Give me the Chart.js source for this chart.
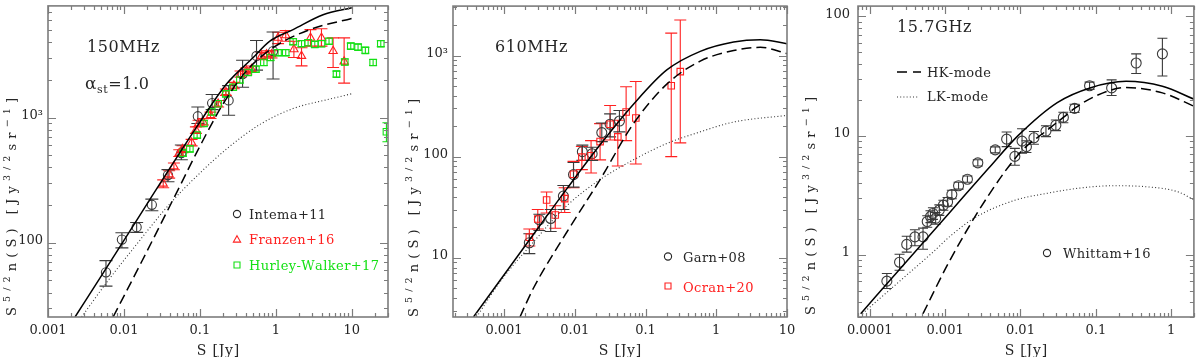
<!DOCTYPE html>
<html>
<head>
<meta charset="utf-8">
<title>Source counts</title>
<script src="https://cdn.jsdelivr.net/npm/chart.js@4.4.1/dist/chart.umd.min.js"></script>
<style>
  html, body { margin: 0; padding: 0; background: #fff; }
  #wrap { position: relative; width: 1200px; height: 357px; overflow: hidden; }
  .panel { position: absolute; top: 0; width: 400px; height: 357px; }
</style>
</head>
<body>
<div id="wrap">
  <div class="panel" style="left:0px"><canvas id="c150" width="400" height="357"></canvas></div>
  <div class="panel" style="left:400px"><canvas id="c610" width="400" height="357"></canvas></div>
  <div class="panel" style="left:800px"><canvas id="c157" width="400" height="357"></canvas></div>
</div>
<script>
// ---------- 150 MHz ----------
const x150Ticks = [0.001, 0.01, 0.1, 1, 10];
const x150Labels = ['0.001', '0.01', '0.1', '1', '10'];
const y150Ticks = [100, 1000];
const y150Labels = ['100', '10³'];

const intemaS  = [0.0058, 0.0094, 0.0147, 0.0233, 0.038, 0.057, 0.094, 0.145, 0.239, 0.365, 0.557, 0.92];
const intemaN  = [58, 106, 133, 201, 347, 520, 1024, 1306, 1370, 2224, 3105, 3397];
const intemaLo = [45, 91, 121, 180, 307, 460, 897, 1157, 1043, 1745, 2393, 2032];
const intemaHi = [72, 120, 145, 223, 384, 604, 1215, 1527, 1800, 2873, 4130, 4830];

const franzenS  = [0.0329, 0.0394, 0.0455, 0.0535, 0.059, 0.0778, 0.0886, 0.096, 0.11, 0.138, 0.174, 0.22, 0.28, 0.343,
                   0.41, 0.479, 0.648, 0.755, 0.878, 1.07, 1.35, 1.73, 2.18, 2.86, 3.99, 5.68, 7.93];
const franzenN  = [296, 351, 408, 520, 559, 631, 794, 897, 925, 1043, 1290, 1596, 1800, 2224,
                   2361, 2436, 3105, 3200, 3200, 4335, 4540, 3507, 3105, 4335, 4335, 3397, 2800];
const franzenLo = [275, 328, 383, 488, 525, 594, 748, 845, 872, 983, 1216, 1505, 1697, 2097,
                   2226, 2297, 2900, 2990, 2990, 3900, 4074, 3015, 2588, 3724, 3724, 2512, 1884];
const franzenHi = [318, 376, 434, 553, 595, 670, 843, 952, 981, 1106, 1368, 1692, 1909, 2358,
                   2503, 2583, 3320, 3420, 3420, 4800, 4955, 4074, 3614, 5037, 5130, 4335, 4335];

const hurleyS  = [0.06, 0.0738, 0.092, 0.113, 0.143, 0.174, 0.22, 0.274, 0.336, 0.432, 0.546, 0.695, 0.851, 1.07, 1.35,
                  1.69, 2.18, 2.66, 3.26, 3.99, 5.02, 6.29, 8.09, 9.7, 12.1, 15.1, 19.1, 24.1, 28.6];
const hurleyN  = [520, 562, 724, 897, 1109, 1290, 1547, 1745, 1995, 2290, 2436, 2754, 3015, 3297, 3297,
                  4036, 3890, 3962, 3840, 3890, 4074, 2224, 2780, 3724, 3656, 3444, 2754, 3890, 771];
const hurleyLo = [492, 532, 685, 850, 1050, 1222, 1466, 1652, 1890, 2170, 2308, 2609, 2856, 3124, 3124,
                  3824, 3686, 3754, 3638, 3686, 3860, 2107, 2634, 3528, 3464, 3263, 2609, 3686, 640];
const hurleyHi = [549, 593, 764, 947, 1171, 1362, 1633, 1842, 2106, 2417, 2571, 2907, 3183, 3480, 3480,
                  4260, 4106, 4182, 4053, 4106, 4300, 2348, 2934, 3931, 3859, 3635, 2907, 4106, 910];

const m150SolidS  = [0.00227, 0.0058, 0.022, 0.0446, 0.1, 0.224, 0.5, 0.834, 1.69, 4.19, 10];
const m150SolidN  = [25.5, 62, 222, 434, 920, 1854, 3000, 4074, 5040, 6620, 7550];
const m150DashS   = [0.0072, 0.0171, 0.0546, 0.1, 0.203, 0.411, 0.92, 2.8, 10];
const m150DashN   = [25.5, 70.5, 284, 590, 1290, 2361, 3614, 5040, 6200];
const m150DotS    = [0.00277, 0.0059, 0.0133, 0.0403, 0.1, 0.224, 0.615, 1.69, 5, 10];
const m150DotN    = [25.5, 48, 90, 205, 360, 560, 880, 1180, 1400, 1550];

// ---------- 610 MHz ----------
const x610Ticks = [0.001, 0.01, 0.1, 1, 10];
const x610Labels = ['0.001', '0.01', '0.1', '1', '10'];
const y610Ticks = [10, 100, 1000];
const y610Labels = ['10', '100', '10³'];

const garnS  = [0.00228, 0.00316, 0.00457, 0.0069, 0.0096, 0.0128, 0.0176, 0.0241, 0.0316, 0.0428];
const garnN  = [14.1, 23.8, 24.5, 40.8, 66.5, 112, 107, 173, 209, 225];
const garnLo = [11, 18.6, 18.2, 30, 50, 92, 92, 141, 157, 176];
const garnHi = [17.3, 27, 30, 51.9, 87.7, 130, 124, 215, 265, 286];

const ocranS  = [0.00228, 0.003, 0.004, 0.0053, 0.0072, 0.0096, 0.0126, 0.017, 0.0228, 0.0316, 0.0406, 0.0532, 0.0729, 0.231, 0.31];
const ocranN  = [16, 24.2, 37.3, 26.5, 38.5, 67, 99, 102, 141, 209, 157, 276, 241, 502, 693];
const ocranLo = [13.1, 19.3, 27.7, 19.6, 28.1, 49.3, 74.5, 69, 93, 146, 81, 144, 84.6, 100, 137];
const ocranHi = [19.3, 30, 44.7, 32.7, 49.3, 89.8, 126, 144, 212, 321, 229, 491, 553, 1665, 2245];

const m610SolidS = [0.00037, 0.00088, 0.00228, 0.0077, 0.0228, 0.0676, 0.2, 0.594, 1.76, 4.2, 10];
const m610SolidN = [2.6, 6.0, 15, 48, 131, 330, 720, 1100, 1360, 1432, 1310];
const m610DashS  = [0.00168, 0.0026, 0.0077, 0.0228, 0.0676, 0.2, 0.594, 1.76, 4.2, 10];
const m610DashN  = [2.6, 5, 17.9, 59.4, 212, 521, 881, 1119, 1206, 1046];
const m610DotS   = [0.00041, 0.00088, 0.0026, 0.0077, 0.0228, 0.0676, 0.2, 0.594, 1.76, 10];
const m610DotN   = [2.6, 5.8, 14.3, 32.7, 59.4, 93, 135, 176, 220, 256];

// ---------- 15.7 GHz ----------
const x157Ticks = [0.0001, 0.001, 0.01, 0.1, 1];
const x157Labels = ['0.0001', '0.001', '0.01', '0.1', '1'];
const y157Ticks = [1, 10, 100];
const y157Labels = ['1', '10', '100'];

const whittamS  = [0.000169, 0.000249, 0.00031, 0.000398, 0.00051, 0.00058, 0.00064, 0.00069, 0.00075, 0.00084, 0.00095,
                   0.00108, 0.00123, 0.00151, 0.00198, 0.00272, 0.00463, 0.00656, 0.00843, 0.0105, 0.012, 0.0151,
                   0.0218, 0.0295, 0.0371, 0.0522, 0.0826, 0.162, 0.343, 0.764];
const whittamN  = [0.60, 0.865, 1.22, 1.41, 1.41, 1.9, 2.09, 2.22, 2.02, 2.37, 2.6,
                   2.77, 3.2, 3.79, 4.3, 5.9, 7.58, 9.33, 6.68, 8.98, 8.07, 9.57,
                   10.9, 12.2, 14.2, 16.9, 26.2, 25.1, 40.6, 48.5];
const whittamLo = [0.52, 0.74, 1.05, 1.19, 1.11, 1.7, 1.86, 1.98, 1.8, 2.14, 2.36,
                   2.55, 2.95, 3.55, 4.05, 5.55, 7.15, 8.07, 5.64, 7.1, 7.2, 8.45,
                   9.8, 11.0, 12.8, 15.6, 24.4, 21.7, 33.2, 31.6];
const whittamHi = [0.695, 1.01, 1.43, 1.62, 1.67, 2.12, 2.34, 2.48, 2.26, 2.62, 2.86,
                   3.02, 3.47, 4.05, 4.58, 6.27, 8.04, 10.7, 7.8, 11.4, 9.05, 10.8,
                   12.1, 13.5, 15.7, 18.3, 28.1, 29.3, 48.5, 65.6];

const m157SolidS = [0.000076, 0.0003, 0.0012, 0.0038, 0.0093, 0.0308, 0.0836, 0.252, 0.764, 2.05];
const m157SolidN = [0.32, 0.86, 2.33, 5.33, 9.98, 18.9, 25.1, 28.5, 25.9, 20.1];
const m157DashS  = [0.00051, 0.00114, 0.00377, 0.0102, 0.0218, 0.0371, 0.0522, 0.1, 0.25, 0.764, 2.05];
const m157DashN  = [0.32, 0.88, 3.15, 7.34, 10.9, 14.2, 16.9, 21.5, 25.3, 22.8, 17.5];
const m157DotS   = [0.00008, 0.00025, 0.00069, 0.0012, 0.0025, 0.0084, 0.0229, 0.0625, 0.17, 0.46, 1.26, 2.05];
const m157DotN   = [0.32, 0.6, 1.05, 1.45, 2.05, 2.86, 3.28, 3.63, 3.79, 3.72, 3.35, 2.86];

// ---------- look ----------
const SERIF = '"DejaVu Serif", "Liberation Serif", serif';
const INK = '#262626';
const AXIS = '#7c7c7c';
const RED = '#ff2020';
const GREEN = '#14e014';

Chart.defaults.font.family = SERIF;
Chart.defaults.color = INK;

const pts = (xs, ys) => xs.map((x, i) => ({ x: x, y: ys[i] }));

function markers(xs, ys, lo, hi, style, color, radius, cap) {
    return {
        data: pts(xs, ys), errLo: lo, errHi: hi, capWidth: cap, barColor: color,
        showLine: false, pointStyle: style, pointRadius: radius, pointHoverRadius: radius,
        pointBorderColor: color, pointBackgroundColor: 'rgba(0,0,0,0)', pointBorderWidth: 1.1,
        clip: 0
    };
}

function curve(xs, ys, kind) {
    const ds = {
        data: pts(xs, ys), showLine: true, pointRadius: 0, pointHoverRadius: 0,
        borderColor: '#000', borderWidth: 1.5, fill: false,
        cubicInterpolationMode: 'monotone', clip: 0
    };
    if (kind === 'dash') ds.borderDash = [10, 5];
    if (kind === 'dot') { ds.borderDash = [1, 2.3]; ds.borderWidth = 1.1; ds.borderColor = '#333'; }
    return ds;
}

// all 1..9 x 10^k values inside the range, for the small inward tick marks
function logSteps(min, max) {
    const out = [];
    for (let e = Math.floor(Math.log10(min)); e <= Math.ceil(Math.log10(max)); e++) {
        for (let m = 1; m <= 9; m++) {
            const v = m * Math.pow(10, e);
            if (v >= min * 0.999 && v <= max * 1.001) out.push({ v: v, major: m === 1 });
        }
    }
    return out;
}

// text made of pieces: [text, size, dy]
function richWidth(ctx, parts, spacing) {
    let w = 0;
    parts.forEach(p => {
        ctx.font = p[1] + 'px ' + SERIF;
        for (const ch of p[0]) w += ctx.measureText(ch).width + spacing;
    });
    return w - spacing;
}
function drawRich(ctx, parts, x, y, spacing) {
    parts.forEach(p => {
        ctx.font = p[1] + 'px ' + SERIF;
        for (const ch of p[0]) {
            ctx.fillText(ch, x, y + (p[2] || 0));
            x += ctx.measureText(ch).width + spacing;
        }
    });
}
const charCount = (parts) => parts.reduce((n, p) => n + [...p[0]].length, 0);

function drawMarker(ctx, kind, x, y, color) {
    ctx.save();
    ctx.strokeStyle = color;
    ctx.lineWidth = 1.1;
    ctx.beginPath();
    if (kind === 'circle') {
        ctx.arc(x, y, 3.6, 0, Math.PI * 2);
    } else if (kind === 'triangle') {
        ctx.moveTo(x, y - 3.8); ctx.lineTo(x + 3.6, y + 2.6); ctx.lineTo(x - 3.6, y + 2.6); ctx.closePath();
    } else if (kind === 'rect') {
        ctx.rect(x - 3, y - 3, 6, 6);
    } else if (kind === 'dash') {
        ctx.lineWidth = 1.4; ctx.setLineDash([10, 6]);
        ctx.moveTo(x, y); ctx.lineTo(x + 24, y);
    } else if (kind === 'dot') {
        ctx.setLineDash([1, 2.2]);
        ctx.moveTo(x, y); ctx.lineTo(x + 22, y);
    }
    ctx.stroke();
    ctx.restore();
}

const yTitleParts = [['S', 13, 0], ['5/2', 9.5, -5.5], ['n(S)', 13, 0], [' ', 13, 0], ['[Jy', 13, 0],
                     ['3/2', 9.5, -5.5], ['sr', 13, 0], ['−1', 9.5, -5.5], [']', 13, 0]];
const yTitleLength = 218;

const decor = {
    id: 'decor',
    beforeDatasetsDraw(chart) {
        const ctx = chart.ctx, xs = chart.scales.x, ys = chart.scales.y, a = chart.chartArea;
        ctx.save();
        ctx.beginPath();
        ctx.rect(a.left, a.top, a.right - a.left, a.bottom - a.top);
        ctx.clip();
        chart.data.datasets.forEach(ds => {
            if (!ds.errLo) return;
            ctx.strokeStyle = ds.barColor;
            ctx.lineWidth = 1.1;
            const c = ds.capWidth / 2;
            ds.data.forEach((p, i) => {
                const x = xs.getPixelForValue(p.x);
                const y0 = ys.getPixelForValue(ds.errLo[i]);
                const y1 = ys.getPixelForValue(ds.errHi[i]);
                ctx.beginPath();
                ctx.moveTo(x, y0); ctx.lineTo(x, y1);
                ctx.moveTo(x - c, y0); ctx.lineTo(x + c, y0);
                ctx.moveTo(x - c, y1); ctx.lineTo(x + c, y1);
                ctx.stroke();
            });
        });
        ctx.restore();
    },
    afterDraw(chart, args, opts) {
        const ctx = chart.ctx, xs = chart.scales.x, ys = chart.scales.y, a = chart.chartArea;
        ctx.save();
        // inward ticks on all four sides
        ctx.strokeStyle = AXIS;
        ctx.lineWidth = 1.2;
        ctx.beginPath();
        logSteps(xs.min, xs.max).forEach(t => {
            const x = Math.round(xs.getPixelForValue(t.v)) + 0.5, len = t.major ? 8 : 4;
            ctx.moveTo(x, a.bottom); ctx.lineTo(x, a.bottom - len);
            ctx.moveTo(x, a.top); ctx.lineTo(x, a.top + len);
        });
        logSteps(ys.min, ys.max).forEach(t => {
            const y = Math.round(ys.getPixelForValue(t.v)) + 0.5, len = t.major ? 8 : 4;
            ctx.moveTo(a.left, y); ctx.lineTo(a.left + len, y);
            ctx.moveTo(a.right, y); ctx.lineTo(a.right - len, y);
        });
        ctx.stroke();
        // frame
        ctx.lineWidth = 1.6;
        ctx.strokeRect(a.left, a.top, a.right - a.left, a.bottom - a.top);

        ctx.fillStyle = INK;
        ctx.textBaseline = 'alphabetic';
        ctx.textAlign = 'left';

        // x title
        const xt = [['S [Jy]', 14, 0]];
        const xw = richWidth(ctx, xt, 0.8);
        drawRich(ctx, xt, (a.left + a.right) / 2 - xw / 2, 355, 0.8);

        // y title, rotated, spread to the same length as the original
        const n = charCount(yTitleParts);
        const sp = (yTitleLength - richWidth(ctx, yTitleParts, 0)) / (n - 1);
        const w = richWidth(ctx, yTitleParts, sp);
        ctx.save();
        ctx.translate(opts.yTitleX, opts.yTitleY);
        ctx.rotate(-Math.PI / 2);
        drawRich(ctx, yTitleParts, -w / 2, 4.5, sp);
        ctx.restore();

        // panel notes
        (opts.notes || []).forEach(nt => {
            ctx.fillStyle = nt.color || INK;
            drawRich(ctx, nt.parts, nt.x, nt.y, 0.6);
        });

        // legend
        (opts.legend || []).forEach(l => {
            drawMarker(ctx, l.marker, l.mx, l.my, l.markerColor || l.color);
            ctx.fillStyle = l.color;
            drawRich(ctx, [[l.text, 13, 0]], l.tx, l.ty, 0.4);
        });
        ctx.restore();
    }
};

function makePanel(id, cfg) {
    const label = (vals, labels) => (v) => {
        const i = vals.indexOf(v);
        return i < 0 ? '' : labels[i];
    };
    return new Chart(document.getElementById(id), {
        type: 'scatter',
        data: { datasets: cfg.datasets },
        options: {
            responsive: false,
            animation: false,
            devicePixelRatio: 1,
            layout: { padding: { left: 0, right: cfg.padRight, top: 1, bottom: 0 } },
            scales: {
                x: {
                    type: 'logarithmic', min: cfg.xMin, max: cfg.xMax,
                    afterBuildTicks: (s) => { s.ticks = cfg.xTicks.map(v => ({ value: v })); },
                    afterFit: (s) => { s.height = 40; s.paddingLeft = 0; s.paddingRight = 0; },
                    grid: { display: false, drawTicks: false },
                    border: { display: false },
                    ticks: {
                        callback: label(cfg.xTicks, cfg.xLabels), autoSkip: false, maxRotation: 0,
                        font: { family: SERIF, size: 13 }, color: INK, padding: 6
                    }
                },
                y: {
                    type: 'logarithmic', min: cfg.yMin, max: cfg.yMax,
                    afterBuildTicks: (s) => { s.ticks = cfg.yTicks.map(v => ({ value: v })); },
                    afterFit: (s) => { s.width = cfg.left; s.paddingTop = 0; s.paddingBottom = 0; },
                    grid: { display: false, drawTicks: false },
                    border: { display: false },
                    ticks: {
                        callback: label(cfg.yTicks, cfg.yLabels), autoSkip: false,
                        font: { family: SERIF, size: 13 }, color: INK, padding: cfg.yPad,
                        labelOffset: -2
                    }
                }
            },
            plugins: {
                legend: { display: false },
                tooltip: { enabled: false },
                decor: cfg.decor
            }
        },
        plugins: [decor]
    });
}

makePanel('c150', {
    xMin: 0.001, xMax: 30, yMin: 25.5, yMax: 7800,
    xTicks: x150Ticks, xLabels: x150Labels, yTicks: y150Ticks, yLabels: y150Labels,
    left: 48, padRight: 12, yPad: 5,
    datasets: [
        curve(m150SolidS, m150SolidN, 'solid'),
        curve(m150DashS, m150DashN, 'dash'),
        curve(m150DotS, m150DotN, 'dot'),
        markers(hurleyS, hurleyN, hurleyLo, hurleyHi, 'rect', GREEN, 4.6, 8),
        markers(franzenS, franzenN, franzenLo, franzenHi, 'triangle', RED, 4.8, 12),
        markers(intemaS, intemaN, intemaLo, intemaHi, 'circle', '#3a3a3a', 4.6, 13)
    ],
    decor: {
        yTitleX: 11, yTitleY: 207,
        notes: [
            { parts: [['150MHz', 16, 0]], x: 87, y: 52 },
            { parts: [['α', 17, 0], ['st', 11, 4], ['=1.0', 16, 0]], x: 85, y: 89 }
        ],
        legend: [
            { marker: 'circle', mx: 237, my: 214, text: 'Intema+11', tx: 249, ty: 219, color: INK },
            { marker: 'triangle', mx: 237, my: 239.5, text: 'Franzen+16', tx: 249, ty: 244, color: RED },
            { marker: 'rect', mx: 237, my: 265, text: 'Hurley-Walker+17', tx: 249, ty: 269.5, color: GREEN }
        ]
    }
});

makePanel('c610', {
    xMin: 0.00019, xMax: 10, yMin: 2.6, yMax: 3080,
    xTicks: x610Ticks, xLabels: x610Labels, yTicks: y610Ticks, yLabels: y610Labels,
    left: 53, padRight: 13, yPad: 5,
    datasets: [
        curve(m610SolidS, m610SolidN, 'solid'),
        curve(m610DashS, m610DashN, 'dash'),
        curve(m610DotS, m610DotN, 'dot'),
        markers(ocranS, ocranN, ocranLo, ocranHi, 'rect', RED, 4.6, 12),
        markers(garnS, garnN, garnLo, garnHi, 'circle', '#3a3a3a', 5, 12)
    ],
    decor: {
        yTitleX: 13, yTitleY: 208,
        notes: [
            { parts: [['610MHz', 16, 0]], x: 95, y: 52 }
        ],
        legend: [
            { marker: 'circle', mx: 268, my: 256.5, text: 'Garn+08', tx: 283, ty: 261.5, color: INK },
            { marker: 'rect', mx: 268, my: 286, text: 'Ocran+20', tx: 283, ty: 291.5, color: RED }
        ]
    }
});

makePanel('c157', {
    xMin: 0.000072, xMax: 2.0, yMin: 0.32, yMax: 122,
    xTicks: x157Ticks, xLabels: x157Labels, yTicks: y157Ticks, yLabels: y157Labels,
    left: 58, padRight: 1, yPad: 8,
    datasets: [
        curve(m157SolidS, m157SolidN, 'solid'),
        curve(m157DashS, m157DashN, 'dash'),
        curve(m157DotS, m157DotN, 'dot'),
        markers(whittamS, whittamN, whittamLo, whittamHi, 'circle', '#3a3a3a', 5, 10)
    ],
    decor: {
        yTitleX: 10, yTitleY: 206,
        notes: [
            { parts: [['15.7GHz', 16, 0]], x: 97, y: 31.5 }
        ],
        legend: [
            { marker: 'dash', mx: 97, my: 72, text: 'HK-mode', tx: 127, ty: 76.5, color: INK, markerColor: '#000' },
            { marker: 'dot', mx: 97, my: 97, text: 'LK-mode', tx: 127, ty: 101, color: INK, markerColor: '#333' },
            { marker: 'circle', mx: 247, my: 253, text: 'Whittam+16', tx: 263, ty: 257.5, color: INK }
        ]
    }
});
</script>
</body>
</html>
